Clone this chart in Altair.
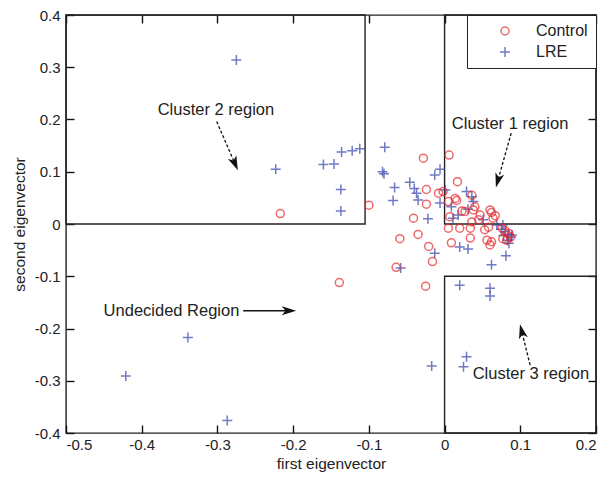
import math
import altair as alt
import pandas as pd

# ---------------- data ----------------
lre_x = [-0.275, -0.223, -0.160, -0.146, -0.136, -0.122, -0.112, -0.137, -0.137, -0.079,
         -0.082, -0.080, -0.066, -0.068, -0.046, -0.040, -0.037, -0.035, -0.022, -0.013,
         -0.006, 0.001, -0.006, 0.009, 0.011, 0.029, 0.036, 0.038, 0.031, 0.018,
         0.051, 0.069, 0.075, 0.080, 0.084, 0.088, 0.078, 0.083, 0.085, 0.077,
         0.089, 0.081, 0.062, 0.020, 0.031, -0.013, -0.058, 0.020, 0.060, 0.060,
         -0.017, 0.029, 0.025, -0.421, -0.339, -0.287]
lre_y = [0.314, 0.105, 0.114, 0.115, 0.138, 0.140, 0.144, 0.066, 0.025, 0.147,
         0.100, 0.096, 0.070, 0.045, 0.080, 0.068, 0.059, 0.046, 0.010, 0.094,
         0.105, 0.065, 0.040, 0.033, 0.011, 0.062, 0.052, 0.043, 0.028, 0.017,
         0.008, -0.002, -0.010, -0.015, -0.020, -0.025, -0.022, -0.031, -0.037, -0.002,
         -0.021, -0.061, -0.078, -0.044, -0.048, -0.056, -0.084, -0.117, -0.123, -0.138,
         -0.272, -0.254, -0.273, -0.291, -0.217, -0.376]

ctrl_x = [-0.217, -0.100, -0.139, -0.028, 0.006, 0.017, -0.024, -0.008, -0.002, -0.024,
          0.005, 0.016, 0.036, -0.041, 0.007, 0.023, 0.038, 0.047, 0.060, 0.045,
          0.036, 0.020, 0.005, 0.034, 0.053, 0.064, 0.058, 0.076, 0.080, 0.085,
          0.087, 0.082, 0.077, 0.056, 0.060, 0.062, 0.034, 0.009, -0.059, -0.035,
          -0.021, -0.016, -0.064, -0.025, 0.014, 0.027, 0.040, 0.062, 0.067]
ctrl_y = [0.020, 0.036, -0.112, 0.126, 0.132, 0.081, 0.066, 0.059, 0.062, 0.038,
          0.043, 0.045, 0.055, 0.011, 0.014, 0.025, 0.027, 0.017, 0.027, 0.008,
          0.004, -0.008, -0.008, -0.008, -0.011, 0.011, -0.006, -0.008, -0.013, -0.018,
          -0.025, -0.031, -0.028, -0.031, -0.040, -0.034, -0.027, -0.036, -0.028, -0.020,
          -0.043, -0.072, -0.083, -0.119, 0.049, 0.024, 0.033, 0.022, 0.016]

x_ticks = [-0.5, -0.4, -0.3, -0.2, -0.1, 0.0, 0.1, 0.2]
y_ticks = [-0.4, -0.3, -0.2, -0.1, 0.0, 0.1, 0.2, 0.3, 0.4]

box_x1 = [-0.5, 0.0, 0.0]
box_x2 = [-0.105, 0.2, 0.2]
box_y1 = [0.0, 0.0, -0.4]
box_y2 = [0.4, 0.4, -0.1]

label_text = ["Cluster 2 region", "Cluster 1 region", "Undecided Region", "Cluster 3 region"]
label_x = [-0.302, 0.0865, -0.271, 0.114]
label_y = [0.218, 0.191, -0.166, -0.287]
label_align = ["center", "center", "right", "center"]

arrow_x1 = [-0.301, 0.088, -0.266, 0.113]
arrow_y1 = [0.196, 0.174, -0.166, -0.270]
arrow_x2 = [-0.277, 0.0705, -0.206, 0.102]
arrow_y2 = [0.116, 0.084, -0.166, -0.206]
arrow_style = ["dashed", "dashed", "solid", "dashed"]

# ---------------- layout ----------------
W, H = 530, 418
XD, YD = [-0.5, 0.2], [-0.4, 0.4]
sx = W / (XD[1] - XD[0])
sy = H / (YD[1] - YD[0])
FONT = "Liberation Sans"
TK = 8  # inward tick length (px)

xs = alt.Scale(domain=XD, nice=False, zero=False)
ys = alt.Scale(domain=YD, nice=False, zero=False)

pts = pd.DataFrame({
    "x": lre_x + ctrl_x,
    "y": lre_y + ctrl_y,
    "group": ["LRE"] * len(lre_x) + ["Control"] * len(ctrl_x),
})

boxes = pd.DataFrame({"x": box_x1, "x2": box_x2, "y": box_y1, "y2": box_y2})
labels = pd.DataFrame({"text": label_text, "x": label_x, "y": label_y, "align": label_align})

angles = []
for a, b, c, d in zip(arrow_x1, arrow_y1, arrow_x2, arrow_y2):
    ang = math.degrees(math.atan2((c - a) * sx, (d - b) * sy)) % 360
    angles.append(ang)
arrows = pd.DataFrame({"x": arrow_x1, "y": arrow_y1, "x2": arrow_x2, "y2": arrow_y2,
                       "style": arrow_style, "angle": angles})

# ---------------- axes (inward ticks via negative offset) ----------------
tick_style = dict(ticks=True, tickSize=TK, offset=-TK, tickColor="#111111", tickWidth=1.4,
                  domain=False, grid=False)
x_axis_bottom = alt.Axis(orient="bottom", values=x_ticks, labelExpr="toString(datum.value)",
                         title="first eigenvector", labelPadding=4, titlePadding=4, **tick_style)
y_axis_left = alt.Axis(orient="left", values=y_ticks, labelExpr="toString(datum.value)",
                       title="second eigenvector", labelPadding=6, titlePadding=7, **tick_style)
x_axis_top = alt.Axis(orient="top", values=x_ticks, labels=False, title=None, **tick_style)
y_axis_right = alt.Axis(orient="right", values=y_ticks, labels=False, title=None, **tick_style)

box_layer = alt.Chart(boxes).mark_rect(fillOpacity=0, stroke="#222222", strokeWidth=1.4).encode(
    x=alt.X("x:Q", scale=xs, axis=x_axis_bottom),
    x2="x2:Q",
    y=alt.Y("y:Q", scale=ys, axis=y_axis_left),
    y2="y2:Q",
)

frame_layer = alt.Chart(boxes).mark_rect(fillOpacity=0, strokeOpacity=0).encode(
    x=alt.X("x:Q", scale=xs, axis=x_axis_top),
    x2="x2:Q",
    y=alt.Y("y:Q", scale=ys, axis=y_axis_right),
    y2="y2:Q",
)

plus_path = "M-1,0L1,0M0,-1L0,1"
point_layer = alt.Chart(pts).mark_point(filled=False, strokeWidth=1.5).encode(
    x=alt.X("x:Q", scale=xs, axis=None),
    y=alt.Y("y:Q", scale=ys, axis=None),
    color=alt.Color("group:N", scale=alt.Scale(domain=["Control", "LRE"],
                                               range=["#e62a2e", "#3444aa"]), legend=alt.Legend(title=None)),
    shape=alt.Shape("group:N", scale=alt.Scale(domain=["Control", "LRE"],
                                               range=["circle", plus_path]), legend=alt.Legend(title=None)),
    size=alt.Size("group:N", scale=alt.Scale(domain=["Control", "LRE"], range=[64, 100]), legend=None),
)

text_center = alt.Chart(labels).transform_filter(alt.datum.align == "center").mark_text(
    font=FONT, fontSize=16.5, color="#222222", align="center").encode(
    x=alt.X("x:Q", scale=xs, axis=None),
    y=alt.Y("y:Q", scale=ys, axis=None),
    text="text:N",
)
text_right = alt.Chart(labels).transform_filter(alt.datum.align == "right").mark_text(
    font=FONT, fontSize=16.5, color="#222222", align="right").encode(
    x=alt.X("x:Q", scale=xs, axis=None),
    y=alt.Y("y:Q", scale=ys, axis=None),
    text="text:N",
)

arrow_line = alt.Chart(arrows).mark_rule(color="#111111", strokeWidth=1.3).encode(
    x=alt.X("x:Q", scale=xs, axis=None), x2="x2:Q",
    y=alt.Y("y:Q", scale=ys, axis=None), y2="y2:Q",
    strokeDash=alt.StrokeDash("style:N", scale=alt.Scale(domain=["solid", "dashed"],
                                                          range=[[1, 0], [3, 2]]), legend=None),
)

head_path = "M0,-1L0.6,0.9L0,0.4L-0.6,0.9Z"
arrow_head = alt.Chart(arrows).mark_point(shape=head_path, filled=True, color="#111111",
                                          size=230, opacity=1).encode(
    x=alt.X("x2:Q", scale=xs, axis=None),
    y=alt.Y("y2:Q", scale=ys, axis=None),
    angle=alt.Angle("angle:Q", scale=None),
)

chart = alt.layer(box_layer, frame_layer, point_layer, text_center, text_right,
                  arrow_line, arrow_head).resolve_axis(
    x="independent", y="independent"
).properties(
    width=W, height=H,
    autosize=alt.AutoSizeParams(type="none"),
    padding={"left": 58, "top": 7, "right": 4, "bottom": 45},
).configure_view(
    stroke="#222222", strokeWidth=1.4
).configure_axis(
    labelFont=FONT, labelFontSize=15, labelColor="#222222",
    titleFont=FONT, titleFontSize=15.5, titleFontWeight="normal", titleColor="#222222",
).configure_legend(
    orient="top-right", offset=0, strokeColor="#222222", fillColor="white",
    padding=8, labelFont=FONT, labelFontSize=16, labelColor="#222222",
    symbolStrokeWidth=1.5, symbolSize=80, rowPadding=5, labelOffset=23, symbolOffset=22,
    cornerRadius=0,
)

chart.save("out.html", embed_options={"renderer": "svg", "actions": False})
